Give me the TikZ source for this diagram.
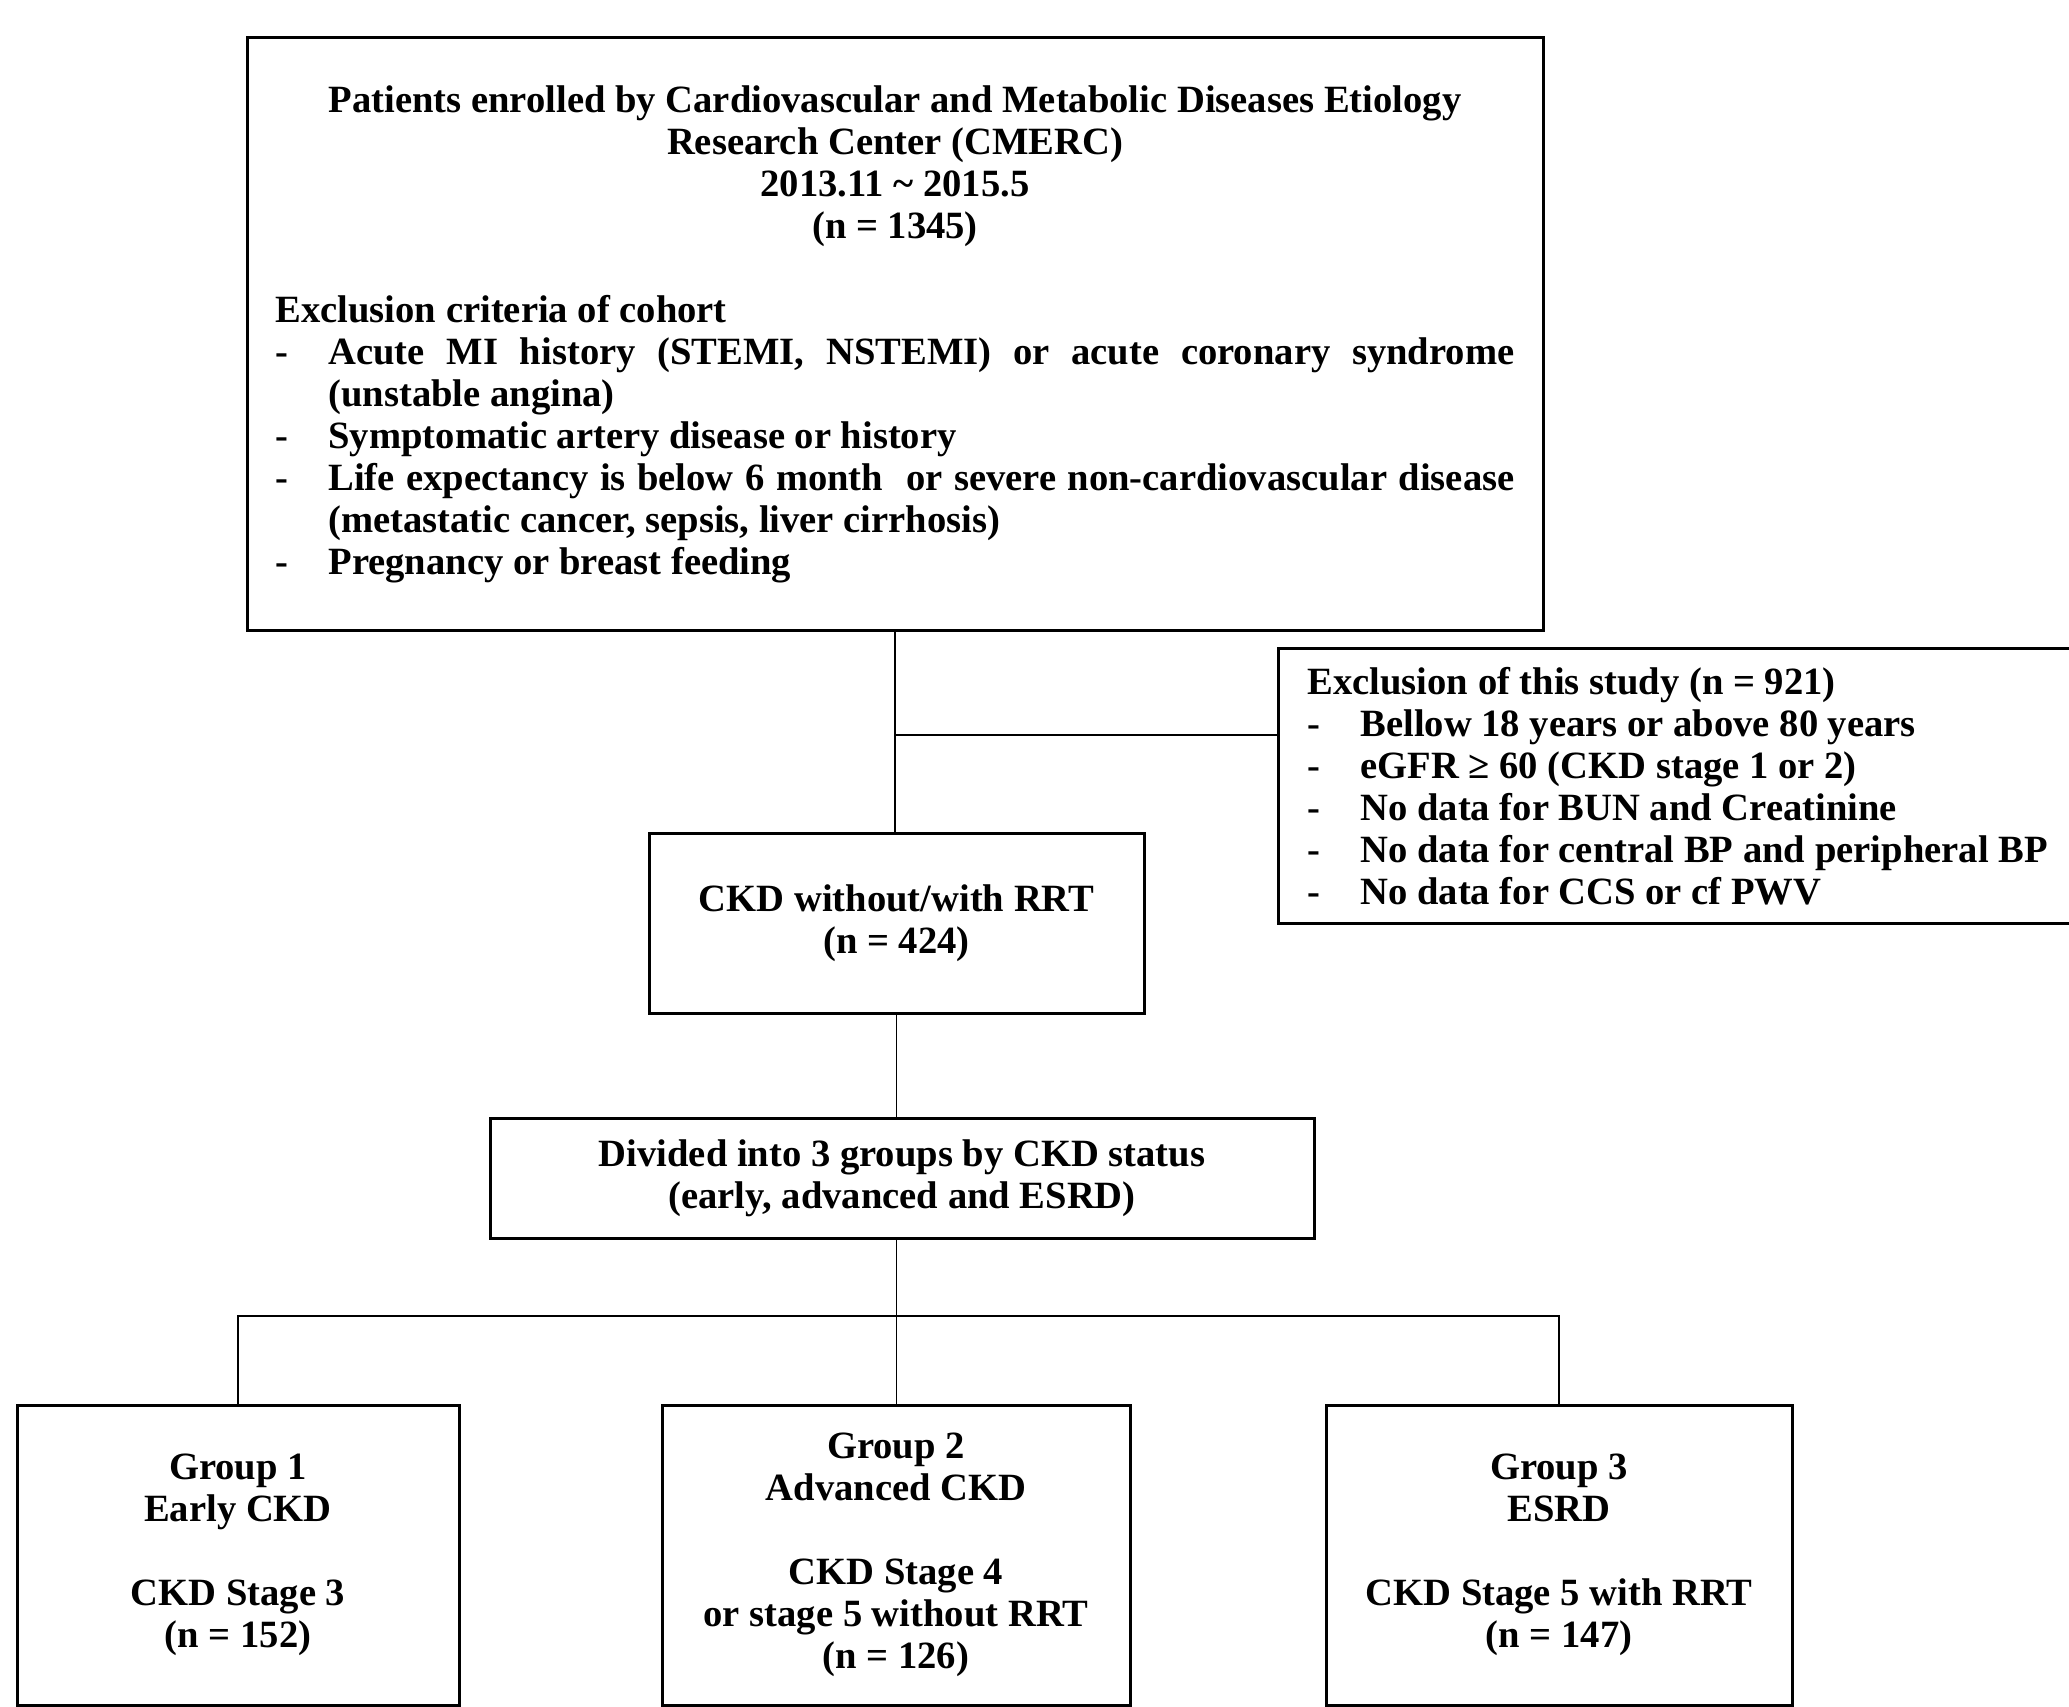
\documentclass[tikz,border=0pt]{standalone}
\usepackage{fontspec}
\setmainfont{Liberation Serif}
\newcommand{\exitem}[1]{\par\noindent\hangindent=26.5pt\hangafter=1\makebox[26.5pt][l]{-}#1}
\tikzset{
  box/.style={draw, line width=1.5pt, inner sep=0pt,
    font=\fontsize{19.3pt}{21pt}\selectfont\bfseries},
  cbox/.style={box, align=center},
  link/.style={line width=0.9pt}
}
\begin{document}
\begin{tikzpicture}[x=0.5pt,y=-0.5pt]
  \path[use as bounding box, clip] (0,0) rectangle (2069,1707);
  % 登録患者
  \node[box, align=justify, text width=619.5pt, minimum width=648pt, minimum height=296pt] (cohort) at (895,334) {%
    {\centering Patients enrolled by Cardiovascular and Metabolic Diseases Etiology\\
    Research Center (CMERC)\\
    2013.11 \textasciitilde{}  2015.5\\
    (n = 1345)\par}
    \vspace{21pt}
    \noindent Exclusion criteria of cohort
    \exitem{Acute MI history (STEMI, NSTEMI) or acute coronary syndrome\linebreak (unstable angina)}
    \exitem{Symptomatic artery disease or history}
    \exitem{Life expectancy is below 6 month \ or severe \mbox{non-cardiovascular} disease\linebreak (metastatic cancer, sepsis, liver cirrhosis)}
    \exitem{Pregnancy or breast feeding}\par};
  % 除外
  \node[box, anchor=north west, align=justify, inner xsep=14.5pt, text width=380pt, minimum height=137.5pt] (excl) at (1277,647) {%
    \noindent Exclusion of this study (n = 921)
    \exitem{Bellow 18 years or above 80 years}
    \exitem{eGFR ≥ 60 (CKD stage 1 or 2)}
    \exitem{No data for BUN and Creatinine}
    \exitem{No data for central BP and peripheral BP}
    \exitem{No data for CCS or cf PWV}\par};
  \node[cbox, minimum width=247.5pt, minimum height=90pt] (ckd) at (896.5,923) {CKD without/with RRT\\(n = 424)};
  \node[cbox, minimum width=412pt, minimum height=60pt] (div) at (902,1178) {Divided into 3 groups by CKD status\\(early, advanced and ESRD)};
  % 3群
  \node[cbox, minimum width=221pt, minimum height=150pt] (g1) at (238,1555) {Group 1\\Early CKD\\[21pt]CKD Stage 3\\(n = 152)};
  \node[cbox, minimum width=234pt, minimum height=150pt] (g2) at (896,1555) {Group 2\\Advanced CKD\\[21pt]CKD Stage 4\\or stage 5 without RRT\\(n = 126)};
  \node[cbox, minimum width=233pt, minimum height=150pt] (g3) at (1559,1555) {Group 3\\ESRD\\[21pt]CKD Stage 5 with RRT\\(n = 147)};
  % 接続線
  \coordinate (sj) at (896,735);
  \coordinate (br) at (897,1316);
  \draw[link] (cohort.south) -- (cohort.south |- ckd.north);
  \draw[link] (sj) -- (sj -| excl.west);
  \draw[link] (ckd.south) -- (ckd.south |- div.north);
  \draw[link] (ckd.south |- div.south) -- (ckd.south |- g2.north);
  \draw[link] (g1.north) |- (br) -| (g3.north);
\end{tikzpicture}
\end{document}
